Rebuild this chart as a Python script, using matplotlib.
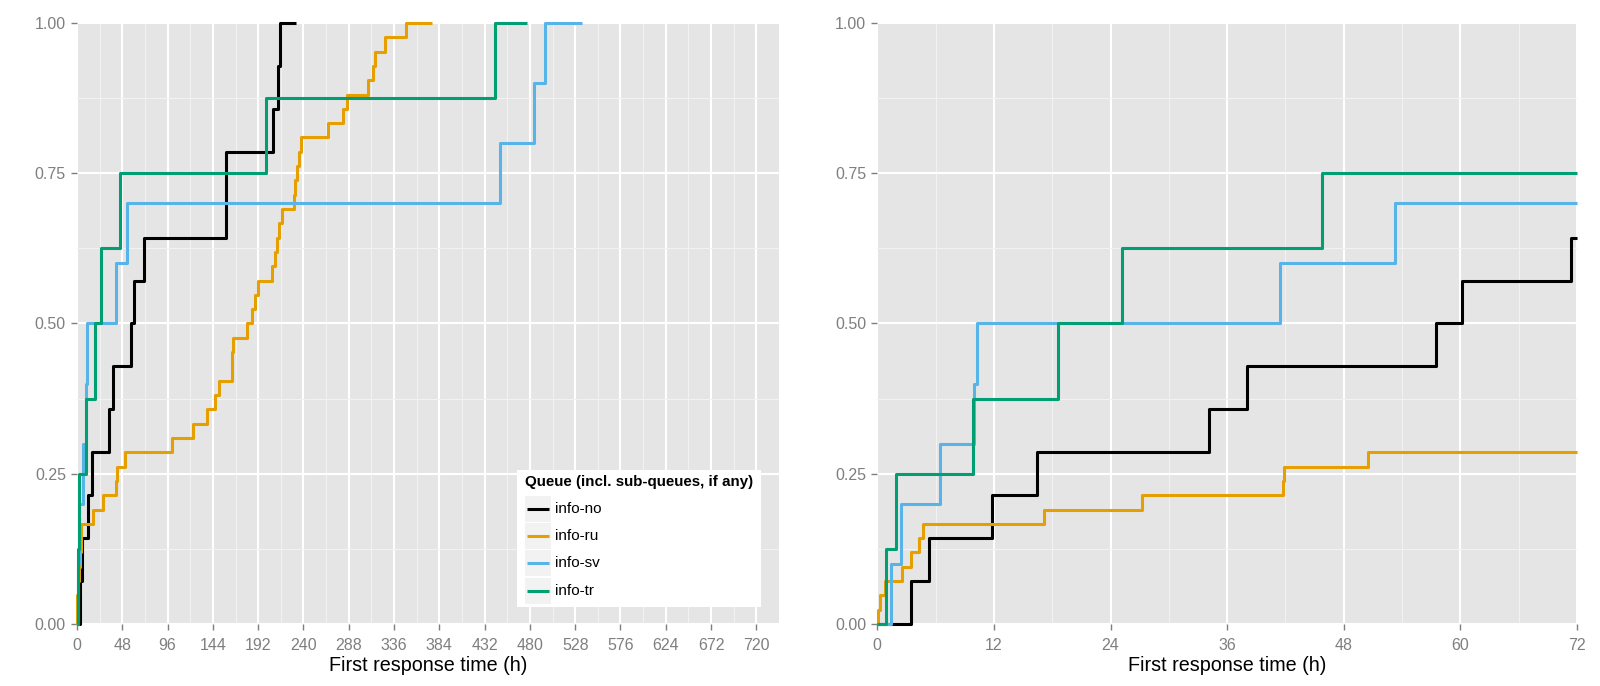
import numpy as np
import matplotlib
matplotlib.use("Agg")
import matplotlib.pyplot as plt
from matplotlib.patches import Rectangle
from matplotlib.lines import Line2D

plt.rcParams['font.family'] = ['Liberation Sans', 'DejaVu Sans']

# --- data: first response times (hours) per queue ---
queues = ['info-no', 'info-ru', 'info-sv', 'info-tr']
colors = ['#000000', '#E69F00', '#56B4E9', '#009E73']

no_hours = [3.43, 5.32, 11.83, 16.4, 34.1, 38.07, 57.45, 60.2, 71.4,
            157.8, 157.9, 208.0, 212.6, 215.0]
ru_hours = [0.1, 0.28, 0.8, 2.57, 3.47, 4.3, 4.73, 17.15, 27.2, 41.7,
            41.9, 50.45, 100.3, 123.2, 137.3, 146.3, 150.6, 163.8, 164.5, 165.3,
            180.4, 185.0, 188.9, 192.0, 206.9, 209.5, 212.0, 214.5, 217.5, 229.9,
            231.2, 233.5, 234.8, 237.0, 266.2, 282.1, 286.3, 307.9, 313.2, 315.7,
            326.3, 348.5]
sv_hours = [1.38, 2.44, 6.45, 10.0, 10.25, 41.46, 53.26, 448.8, 484.1, 496.5]
tr_hours = [0.9, 1.92, 9.88, 18.56, 25.2, 45.8, 200.1, 442.8]
# ggplot pads each ecdf past its last point; where each line stops
line_end = [231.6, 376.4, 535.7, 477.4]

all_hours = [no_hours, ru_hours, sv_hours, tr_hours]

W, H = 1600, 686
fig = plt.figure(figsize=(W / 100, H / 100), dpi=100)


def px_axes(x0, y0, x1, y1):
    return fig.add_axes([x0 / W, 1 - y1 / H, (x1 - x0) / W, (y1 - y0) / H])


def ecdf_path(hours, end, xmax):
    x = np.sort(np.asarray(hours, dtype=float))
    n = len(x)
    xs = np.concatenate([[0.0], x, [end]])
    ys = np.concatenate([[0.0], np.arange(1, n + 1) / n, [1.0]])
    # cut the path at the right edge of the panel (like coord_cartesian)
    keep = xs < xmax
    if keep.all():
        return xs, ys
    xs = np.append(xs[keep], xmax)
    ys = np.append(ys[keep], ys[keep][-1])
    return xs, ys


def style(ax, xmax, step):
    ax.set_facecolor('#E5E5E5')
    ax.set_xlim(0, xmax)
    ax.set_ylim(0, 1)
    ax.set_xticks(np.arange(0, xmax + 0.1, step))
    ax.set_xticks(np.arange(step / 2, xmax, step), minor=True)
    ax.set_yticks([0, 0.25, 0.5, 0.75, 1.0])
    ax.set_yticks([0.125, 0.375, 0.625, 0.875], minor=True)
    ax.yaxis.set_major_formatter('{x:.2f}')
    ax.grid(which='major', color='white', lw=1.5)
    ax.grid(which='minor', color='#F2F2F2', lw=0.75)
    ax.set_axisbelow(True)
    for s in ax.spines.values():
        s.set_visible(False)
    ax.tick_params(which='major', length=4, width=1, color='#7F7F7F',
                   labelcolor='#7F7F7F', labelsize=11.5)
    ax.tick_params(axis='x', pad=6)
    ax.tick_params(axis='y', pad=4)
    ax.tick_params(which='minor', length=0)
    ax.set_xlabel('First response time (h)', fontsize=14.2, labelpad=2.5)


def draw_lines(ax, xmax):
    for hours, end, c in zip(all_hours, line_end, colors):
        xs, ys = ecdf_path(hours, end, xmax)
        ax.step(xs, ys, where='post', color=c, lw=2.2,
                clip_on=False, solid_capstyle='butt', zorder=3)


ax1 = px_axes(77, 23, 779, 624)
style(ax1, 744, 48)
draw_lines(ax1, 744)

ax2 = px_axes(877.3, 23, 1577, 624)
style(ax2, 72, 12)
draw_lines(ax2, 72)

# --- legend, drawn by hand to get ggplot's grey key boxes ---
def fx(x):
    return x / W


def fy(y):
    return 1 - y / H


fig.add_artist(Rectangle((fx(517), fy(607)), (761 - 517) / W, (607 - 470) / H,
                         transform=fig.transFigure, facecolor='white',
                         edgecolor='none', zorder=5))
fig.text(fx(525), fy(482), 'Queue (incl. sub-queues, if any)', fontsize=10.9,
         fontweight='bold', va='center', ha='left', zorder=6)
for i, (name, c) in enumerate(zip(queues, colors)):
    top = 495.7 + 27.3 * i
    fig.add_artist(Rectangle((fx(525), fy(top + 26)), 26 / W, 26 / H,
                             transform=fig.transFigure, facecolor='#F2F2F2',
                             edgecolor='none', zorder=6))
    fig.add_artist(Line2D([fx(527), fx(549)], [fy(top + 13)] * 2,
                          transform=fig.transFigure, color=c, lw=2.2,
                          solid_capstyle='butt', zorder=7))
    fig.text(fx(555), fy(top + 13), name, fontsize=11, va='center',
             ha='left', zorder=7)

fig.savefig('out.png', dpi=100)
